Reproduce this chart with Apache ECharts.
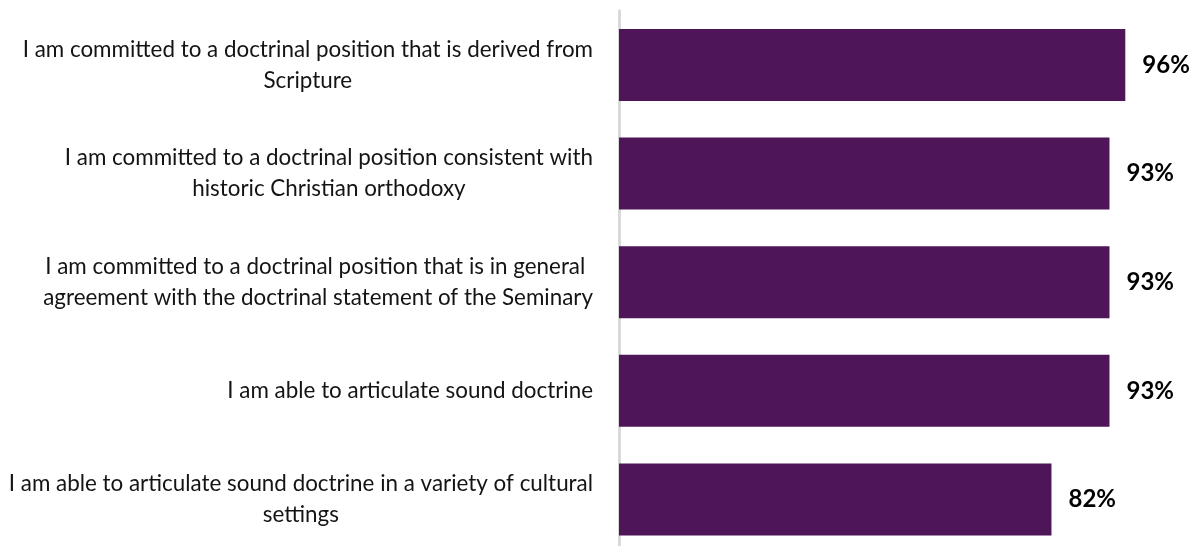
<!DOCTYPE html>
<html>
<head>
<meta charset="utf-8">
<script src="https://cdn.jsdelivr.net/npm/echarts@6/dist/echarts.min.js"></script>
<style>
  html, body { margin: 0; padding: 0; background: #ffffff; overflow: hidden; }
  /* the bottom band runs a little past the visible page edge */
  #chart { width: 1194px; height: 560px; }
</style>
</head>
<body>
<div id="chart"></div>
<script>
// Survey statements (line breaks as they wrap beside the bars)
const categories = [
  'I am committed to a doctrinal position that is derived from\nScripture',
  'I am committed to a doctrinal position consistent with\nhistoric Christian orthodoxy',
  'I am committed to a doctrinal position that is in general \nagreement with the doctrinal statement of the Seminary',
  'I am able to articulate sound doctrine',
  'I am able to articulate sound doctrine in a variety of cultural\nsettings'
];
// Share of respondents who agree (%)
const values = [96, 93, 93, 93, 82];

const FONT = 'Lato, "Open Sans", sans-serif';
const chart = echarts.init(document.getElementById('chart'), null, { renderer: 'canvas' });

chart.setOption({
  animation: false,
  backgroundColor: '#ffffff',
  grid: { left: 619, top: 10.7, width: 527.4, height: 543, containLabel: false },
  xAxis: {
    type: 'value', min: 0, max: 100,
    show: false
  },
  yAxis: {
    type: 'category',
    data: categories,
    inverse: true,
    offset: 2,
    axisLine: { show: true, lineStyle: { color: '#d9d9d9', width: 3 } },
    axisTick: { show: false },
    splitLine: { show: false },
    axisLabel: {
      margin: 24,
      align: 'right',
      formatter: function (v) {
        return v.split('\n').map(function (s) { return '{c|' + s + '}'; }).join('\n');
      },
      rich: {
        c: { align: 'center', fontFamily: FONT, fontSize: 22.4, lineHeight: 31, color: '#141414' }
      }
    }
  },
  series: [{
    type: 'bar',
    data: values,
    barWidth: 72,
    itemStyle: { color: '#4f1559' },
    label: {
      show: true,
      position: 'right',
      distance: 17,
      formatter: '{c}%',
      fontFamily: FONT,
      fontWeight: 'bold',
      fontSize: 24,
      color: '#000000'
    }
  }]
});
</script>
</body>
</html>
